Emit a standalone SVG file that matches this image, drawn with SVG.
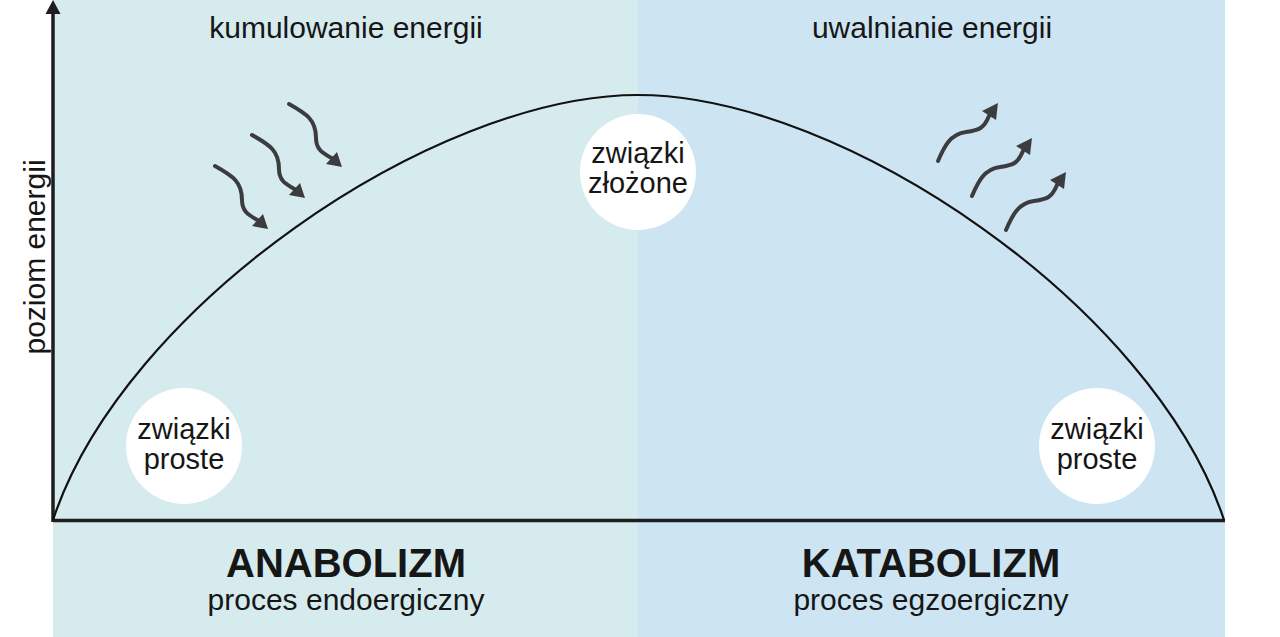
<svg xmlns="http://www.w3.org/2000/svg" xmlns:xlink="http://www.w3.org/1999/xlink" width="1280" height="637" viewBox="0 0 1280 637">
<style>
.t{font-family:"Liberation Sans",Arial,sans-serif;fill:#161616;text-anchor:middle}
.hd{font-size:30px}
.lb{font-size:29px}
.big{font-size:40px;font-weight:bold}
.axis{stroke:#1e1e1e;stroke-width:3.5;fill:none}
.curve{stroke:#111;stroke-width:2.2;fill:none}
.node{fill:#ffffff}
.wave{stroke:#3c3c3e;stroke-width:4;fill:none;stroke-linecap:round}
.head{fill:#3c3c3e}
</style>
<defs>
<g id="waveIn">
<path class="wave" d="M0,0 C18,10 27,16 27,34 C27,46 34,49 44,55"/>
<polygon class="head" points="53,63 37,60 48,48"/>
</g>
<g id="waveOut">
<path class="wave" d="M0,0 C6,-14 12,-27 28,-29 C42,-31 46,-33 51,-45"/>
<polygon class="head" points="60,-58 44,-50 58,-41"/>
</g>
</defs>
<g id="background">
<rect x="53" y="0" width="585" height="637" fill="#d6ebed"/>
<rect x="638" y="0" width="587" height="637" fill="#cde4f3"/>
</g>
<g id="axes">
<line class="axis" x1="53" y1="520.5" x2="1225" y2="520.5"/>
<line class="axis" x1="53" y1="522" x2="53" y2="12"/>
<polygon fill="#1e1e1e" points="53,0 45.5,14 60.5,14"/>
</g>
<g id="connectors">
<path class="curve" d="M53,520 C123,307.5 433,95 638,95 C843,95 1154,307.5 1224,520"/>
</g>
<g id="energy-arrows">
<use xlink:href="#waveIn" x="215" y="166"/>
<use xlink:href="#waveIn" x="252" y="135"/>
<use xlink:href="#waveIn" x="289" y="104"/>
<use xlink:href="#waveOut" x="938" y="161"/>
<use xlink:href="#waveOut" x="972" y="196"/>
<use xlink:href="#waveOut" x="1006" y="230"/>
</g>
<g id="node-left">
<circle class="node" cx="184" cy="446" r="58"/>
<text class="t lb" x="184" y="439">związki</text>
<text class="t lb" x="184" y="469">proste</text>
</g>
<g id="node-center">
<circle class="node" cx="638" cy="172" r="58"/>
<text class="t lb" x="638" y="163">związki</text>
<text class="t lb" x="638" y="193">złożone</text>
</g>
<g id="node-right">
<circle class="node" cx="1097" cy="446" r="58"/>
<text class="t lb" x="1097" y="439">związki</text>
<text class="t lb" x="1097" y="469">proste</text>
</g>
<g id="labels">
<text class="t hd" x="346" y="38">kumulowanie energii</text>
<text class="t hd" x="932" y="38">uwalnianie energii</text>
<text class="t hd" transform="translate(45,257) rotate(-90)">poziom energii</text>
<text class="t big" x="346" y="577">ANABOLIZM</text>
<text class="t hd" x="346" y="610">proces endoergiczny</text>
<text class="t big" x="931" y="577">KATABOLIZM</text>
<text class="t hd" x="931" y="610">proces egzoergiczny</text>
</g>
</svg>
